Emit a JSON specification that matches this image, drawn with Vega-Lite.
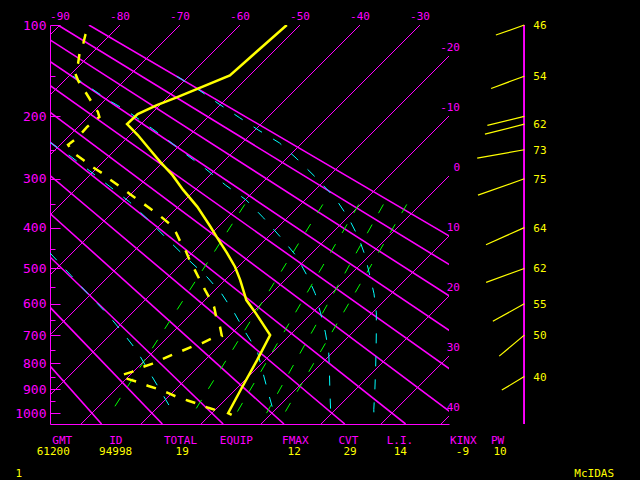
{
"$schema": "https://vega.github.io/schema/vega-lite/v6.json",
"width": 399, "height": 399,
"autosize": {"type": "none"},
"padding": {"left": 50, "top": 25, "right": 191, "bottom": 56},
"background": "#000000",
"config": {"view": {"stroke": null}, "text": {"font": "DejaVu Sans Mono"}},
"datasets": {
 "iso": [{"T":-90},{"T":-80},{"T":-70},{"T":-60},{"T":-50},{"T":-40},{"T":-30},{"T":-20},{"T":-10},{"T":0},{"T":10},{"T":20},{"T":30},{"T":40}],
 "dry": [{"theta":-20},{"theta":-10},{"theta":0},{"theta":10},{"theta":20},{"theta":30},{"theta":40},{"theta":50},{"theta":60},{"theta":70},{"theta":80},{"theta":90}],
 "temp": [{"p":100,"T":-52.2},{"p":149,"T":-53.3},{"p":175,"T":-58.5},{"p":185,"T":-60.5},{"p":197,"T":-62.2},{"p":211,"T":-62.3},{"p":227,"T":-58.7},{"p":250,"T":-54.2},{"p":270,"T":-50.5},{"p":293,"T":-46.3},{"p":321,"T":-42},{"p":355,"T":-36.8},{"p":398,"T":-31.3},{"p":422,"T":-28.5},{"p":460,"T":-24.2},{"p":496,"T":-20.5},{"p":531,"T":-17.5},{"p":589,"T":-13.1},{"p":625,"T":-9.7},{"p":700,"T":-3.3},{"p":788,"T":-1.3},{"p":891,"T":0.7},{"p":1000,"T":2.7},{"p":1008,"T":3.6}],
 "dewp": [{"p":100,"T":-85.2},{"p":108,"T":-84.2},{"p":116,"T":-83.1},{"p":126,"T":-82.0},{"p":136,"T":-80.6},{"p":145,"T":-79.8},{"p":156,"T":-77.5},{"p":168,"T":-74.7},{"p":181,"T":-71.9},{"p":194,"T":-69.2},{"p":201,"T":-68.1},{"p":205,"T":-68.3},{"p":215,"T":-68.5},{"p":230,"T":-68.3},{"p":242,"T":-68.7},{"p":255,"T":-66.5},{"p":267,"T":-63.6},{"p":279,"T":-60.9},{"p":291,"T":-58.0},{"p":301,"T":-56.0},{"p":316,"T":-52.8},{"p":329,"T":-50.2},{"p":345,"T":-47.0},{"p":359,"T":-44.3},{"p":376,"T":-41.2},{"p":392,"T":-38.5},{"p":410,"T":-36.2},{"p":433,"T":-33.8},{"p":457,"T":-31.2},{"p":483,"T":-28.8},{"p":501,"T":-27.0},{"p":528,"T":-24.5},{"p":559,"T":-21.7},{"p":586,"T":-19.3},{"p":610,"T":-17.3},{"p":641,"T":-15.3},{"p":673,"T":-13.0},{"p":703,"T":-11.2},{"p":711,"T":-12.5},{"p":727,"T":-13.3},{"p":740,"T":-14.4},{"p":755,"T":-15.4},{"p":770,"T":-16.4},{"p":785,"T":-17.3},{"p":802,"T":-18.2},{"p":814,"T":-19.3},{"p":832,"T":-20.2},{"p":844,"T":-21.4},{"p":851,"T":-21.3},{"p":860,"T":-19.6},{"p":872,"T":-17.4},{"p":887,"T":-15.1},{"p":899,"T":-13.0},{"p":915,"T":-10.7},{"p":933,"T":-8.3},{"p":947,"T":-6.0},{"p":961,"T":-3.8},{"p":977,"T":-1.5},{"p":990,"T":0.7},{"p":1000,"T":2.2}],
 "moist": [
  {"id":1,"p":460,"T":-53.7},{"id":1,"p":519,"T":-46.4},{"id":1,"p":570,"T":-40.6},{"id":1,"p":630,"T":-34.1},{"id":1,"p":688,"T":-28.6},{"id":1,"p":753,"T":-23.0},{"id":1,"p":825,"T":-17.8},{"id":1,"p":903,"T":-12.5},{"id":1,"p":985,"T":-7.3},{"id":1,"p":1000,"T":-6.2},
  {"id":2,"p":238,"T":-72.2},{"id":2,"p":261,"T":-66.3},{"id":2,"p":286,"T":-60.7},{"id":2,"p":315,"T":-54.7},{"id":2,"p":345,"T":-48.9},{"id":2,"p":384,"T":-42.6},{"id":2,"p":429,"T":-36.1},{"id":2,"p":472,"T":-30.2},{"id":2,"p":523,"T":-23.5},{"id":2,"p":570,"T":-18.3},{"id":2,"p":630,"T":-12.8},{"id":2,"p":688,"T":-8.1},{"id":2,"p":755,"T":-2.8},{"id":2,"p":823,"T":1.1},{"id":2,"p":901,"T":5.3},{"id":2,"p":989,"T":9.8},{"id":2,"p":1000,"T":10.3},
  {"id":3,"p":150,"T":-79.3},{"id":3,"p":161,"T":-75.3},{"id":3,"p":178,"T":-69.6},{"id":3,"p":193,"T":-64.4},{"id":3,"p":213,"T":-58.6},{"id":3,"p":234,"T":-53.0},{"id":3,"p":256,"T":-47.8},{"id":3,"p":282,"T":-41.8},{"id":3,"p":312,"T":-35.7},{"id":3,"p":341,"T":-29.8},{"id":3,"p":378,"T":-24.0},{"id":3,"p":424,"T":-17.6},{"id":3,"p":468,"T":-12.1},{"id":3,"p":522,"T":-6.8},{"id":3,"p":570,"T":-2.7},{"id":3,"p":628,"T":1.4},{"id":3,"p":690,"T":5.4},{"id":3,"p":759,"T":9.3},{"id":3,"p":825,"T":12.4},{"id":3,"p":903,"T":15.8},{"id":3,"p":985,"T":19.2},{"id":3,"p":1000,"T":19.8},
  {"id":4,"p":150,"T":-62.0},{"id":4,"p":167,"T":-55.7},{"id":4,"p":184,"T":-50.2},{"id":4,"p":202,"T":-44.6},{"id":4,"p":220,"T":-39.3},{"id":4,"p":239,"T":-33.8},{"id":4,"p":265,"T":-28.2},{"id":4,"p":298,"T":-21.9},{"id":4,"p":337,"T":-15.3},{"id":4,"p":379,"T":-9.7},{"id":4,"p":424,"T":-4.7},{"id":4,"p":467,"T":-0.7},{"id":4,"p":518,"T":3.3},{"id":4,"p":570,"T":7.1},{"id":4,"p":628,"T":10.7},{"id":4,"p":690,"T":13.9},{"id":4,"p":755,"T":17.0},{"id":4,"p":825,"T":20.1},{"id":4,"p":903,"T":23.3},{"id":4,"p":985,"T":26.4},{"id":4,"p":1000,"T":27.0}],
 "mixr": [{"id":"L1","p":350,"T":-2.3},{"id":"L1","p":1000,"T":12.1},{"id":"L2","p":350,"T":-6.2},{"id":"L2","p":1000,"T":9.1},{"id":"L3","p":350,"T":-10.3},{"id":"L3","p":1000,"T":4.1},{"id":"L4","p":350,"T":-16.3},{"id":"L4","p":1000,"T":-3.1},{"id":"L5","p":350,"T":-29.3},{"id":"L5","p":1000,"T":-16.9}],
 "wind": [{"p":100,"dir":250.5,"spd":46},{"p":150,"dir":249.7,"spd":54},{"p":200,"dir":256.3,"spd":58},{"p":211,"dir":255.7,"spd":62},{"p":250,"dir":260,"spd":73},{"p":300,"dir":250.5,"spd":75},{"p":400,"dir":246,"spd":64},{"p":500,"dir":250,"spd":62},{"p":600,"dir":240.8,"spd":55},{"p":700,"dir":230,"spd":50},{"p":850,"dir":239,"spd":40}],
 "footer": [
  {"text":"GMT","kind":"header","col":7.78,"line":0},{"text":"ID","kind":"header","col":14.48,"line":0},{"text":"TOTAL","kind":"header","col":22.56,"line":0},{"text":"EQUIP","kind":"header","col":29.54,"line":0},{"text":"FMAX","kind":"header","col":36.91,"line":0},{"text":"CVT","kind":"header","col":43.54,"line":0},{"text":"L.I.","kind":"header","col":50.0,"line":0},{"text":"KINX","kind":"header","col":57.91,"line":0},{"text":"PW","kind":"header","col":62.19,"line":0},
  {"text":"61200","kind":"value","col":6.66,"line":1},{"text":"94998","kind":"value","col":14.46,"line":1},{"text":"19","kind":"value","col":22.78,"line":1},{"text":"12","kind":"value","col":36.78,"line":1},{"text":"29","kind":"value","col":43.75,"line":1},{"text":"14","kind":"value","col":50.04,"line":1},{"text":"-9","kind":"value","col":57.81,"line":1},{"text":"10","kind":"value","col":62.5,"line":1},
  {"text":"1","kind":"status","col":2.35,"line":2.83},{"text":"McIDAS","kind":"status","col":74.28,"line":2.83}]
},
"resolve": {"scale": {"x": "independent", "y": "independent"}},
"layer": [
 {"resolve": {"scale": {"y": "independent"}},
  "layer": [
  {"layer": [
  {"data": {"name": "iso"},
   "transform": [{"calculate": "datum.T - 18.594*(pow(1048,0.286)-pow(100,0.286))", "as": "Tb"}],
   "mark": {"type": "rule", "clip": true, "color": "#ff00ff", "strokeWidth": 1},
   "encoding": {
    "x": {"field": "T", "type": "quantitative", "scale": {"domain": [-91.667, -25.167], "nice": false, "zero": false},
          "axis": {"title": null, "ticks": false, "labels": false, "grid": false, "domainColor": "#ff00ff", "domainWidth": 1}},
    "x2": {"field": "Tb"},
    "y": {"datum": 100, "type": "quantitative", "scale": {"type": "pow", "exponent": 0.286, "domain": [100, 1048], "reverse": true, "nice": false, "zero": false},
          "axis": {"title": null, "values": [100,200,300,400,500,600,700,800,900,1000], "format": "d",
                   "grid": false, "domainColor": "#ff00ff", "domainWidth": 1, "ticks": false, "tickSize": 0,
                   "labelColor": "#ff00ff", "labelFont": "DejaVu Sans Mono", "labelFontSize": 13, "labelPadding": 4,
                   "labelOverlap": false, "labelFlush": false, "labelBound": false}},
    "y2": {"datum": 1048}}},
  {"data": {"name": "dry"},
   "transform": [{"calculate": "(datum.theta+273.15)*pow(0.1,0.286)-273.15", "as": "xa"},
                 {"calculate": "(datum.theta+273.15)*pow(1.048,0.286)-273.15-18.594*(pow(1048,0.286)-pow(100,0.286))", "as": "xb"}],
   "mark": {"type": "rule", "clip": true, "color": "#ff00ff", "strokeWidth": 1.6},
   "encoding": {"x": {"field": "xa", "type": "quantitative", "title": null}, "x2": {"field": "xb"},
                "y": {"datum": 100, "type": "quantitative"}, "y2": {"datum": 1048}}},
  {"data": {"name": "mixr"},
   "transform": [{"calculate": "datum.T - 18.594*(pow(datum.p,0.286)-pow(100,0.286))", "as": "X"}],
   "mark": {"type": "line", "clip": true, "color": "#00ff00", "strokeWidth": 1, "strokeDash": [10, 13]},
   "encoding": {"x": {"field": "X", "type": "quantitative", "title": null}, "y": {"field": "p", "type": "quantitative", "title": null},
                "detail": {"field": "id"}, "order": {"field": "p", "type": "quantitative"}}},
  {"data": {"name": "moist"},
   "transform": [{"calculate": "datum.T - 18.594*(pow(datum.p,0.286)-pow(100,0.286))", "as": "X"}],
   "mark": {"type": "line", "clip": true, "color": "#00ffff", "strokeWidth": 1, "strokeDash": [10, 13]},
   "encoding": {"x": {"field": "X", "type": "quantitative", "title": null}, "y": {"field": "p", "type": "quantitative", "title": null},
                "detail": {"field": "id"}, "order": {"field": "p", "type": "quantitative"}}},
  {"data": {"name": "temp"},
   "transform": [{"calculate": "datum.T - 18.594*(pow(datum.p,0.286)-pow(100,0.286))", "as": "X"}],
   "mark": {"type": "line", "clip": true, "color": "#ffff00", "strokeWidth": 2.5},
   "encoding": {"x": {"field": "X", "type": "quantitative", "title": null}, "y": {"field": "p", "type": "quantitative", "title": null},
                "order": {"field": "p", "type": "quantitative"}}},
  {"data": {"name": "dewp"},
   "transform": [{"calculate": "datum.T - 18.594*(pow(datum.p,0.286)-pow(100,0.286))", "as": "X"}],
   "mark": {"type": "line", "clip": true, "color": "#ffff00", "strokeWidth": 2.5, "strokeDash": [10, 11], "strokeDashOffset": 11.5},
   "encoding": {"x": {"field": "X", "type": "quantitative", "title": null}, "y": {"field": "p", "type": "quantitative", "title": null},
                "order": {"field": "p", "type": "quantitative"}}},
  {"data": {"name": "iso"},
   "transform": [{"filter": "datum.T <= -30"}, {"calculate": "toString(datum.T)", "as": "lab"}],
   "mark": {"type": "text", "color": "#ff00ff", "fontSize": 11, "font": "DejaVu Sans Mono", "baseline": "alphabetic", "align": "center", "dy": -5},
   "encoding": {"x": {"field": "T", "type": "quantitative", "title": null}, "y": {"datum": 100, "type": "quantitative"}, "text": {"field": "lab", "type": "nominal"}}},
  {"data": {"name": "iso"},
   "transform": [{"filter": "datum.T >= -20"},
                 {"calculate": "pow(pow(100,0.286) + (datum.T + 25.167)/18.594, 1/0.286)", "as": "pr"},
                 {"calculate": "toString(datum.T)", "as": "lab"}],
   "mark": {"type": "text", "color": "#ff00ff", "fontSize": 11, "font": "DejaVu Sans Mono", "baseline": "alphabetic", "align": "right", "dx": 11, "dy": -5},
   "encoding": {"x": {"datum": -25.167, "type": "quantitative"}, "y": {"field": "pr", "type": "quantitative", "title": null}, "text": {"field": "lab", "type": "nominal"}}},
  {"data": {"name": "wind"},
   "mark": {"type": "rule", "color": "#ff00ff", "strokeWidth": 1},
   "encoding": {"x": {"datum": -12.62, "type": "quantitative"}, "y": {"datum": 100, "type": "quantitative"}, "y2": {"datum": 1048}}},
  {"data": {"name": "wind"},
   "mark": {"type": "point", "shape": "M 0 0 L -2 0", "filled": false, "color": "#ffff00", "strokeWidth": 1.2, "opacity": 1},
   "encoding": {"x": {"datum": -12.62, "type": "quantitative"}, "y": {"field": "p", "type": "quantitative", "title": null},
                "size": {"field": "spd", "type": "quantitative", "scale": {"type": "pow", "exponent": 2, "domain": [0, 100], "range": [0, 4290]}, "legend": null},
                "angle": {"field": "dir", "type": "quantitative", "scale": {"domain": [0, 360], "range": [-270, 90]}, "legend": null}}},
  {"data": {"name": "wind"},
   "transform": [{"filter": "datum.p != 200"}],
   "mark": {"type": "text", "color": "#ffff00", "fontSize": 11, "font": "DejaVu Sans Mono", "align": "left", "baseline": "middle", "dx": 9, "dy": 1},
   "encoding": {"x": {"datum": -12.62, "type": "quantitative"}, "y": {"field": "p", "type": "quantitative", "title": null}, "text": {"field": "spd", "type": "quantitative"}}}
  ]},
  {"data": {"name": "wind"},
   "mark": {"type": "rule", "opacity": 0},
   "encoding": {"x": {"datum": -91.667, "type": "quantitative"},
                "y": {"datum": 100, "type": "quantitative", "scale": {"type": "pow", "exponent": 0.286, "domain": [100, 1048], "reverse": true, "nice": false, "zero": false},
                      "axis": {"orient": "right", "offset": -399, "title": null, "values": [100,150,200,250,300,350,400,450,500,550,600,650,700,750,800,850,900,950,1000],
                               "labels": false, "domain": false, "grid": false, "tickColor": "#ff00ff", "tickWidth": 1,
                               "tickSize": {"condition": {"test": "datum.value % 100 === 0", "value": 10}, "value": 5}}},
                "y2": {"datum": 1048}}}
 ]},
 {"layer": [
  {"data": {"name": "footer"},
   "mark": {"type": "text", "fontSize": 11, "font": "DejaVu Sans Mono", "baseline": "middle", "align": "center"},
   "encoding": {
    "x": {"field": "col", "type": "quantitative", "scale": {"domain": [6.25, 56.125], "nice": false, "zero": false}, "axis": null},
    "y": {"field": "line", "type": "quantitative", "scale": {"domain": [-36.174, -1.478], "reverse": true, "nice": false, "zero": false}, "axis": null},
    "text": {"field": "text"},
    "color": {"field": "kind", "type": "nominal", "scale": {"domain": ["header", "value", "status"], "range": ["#ff00ff", "#ffff00", "#ffff00"]}, "legend": null}}}
 ]}
]
}
